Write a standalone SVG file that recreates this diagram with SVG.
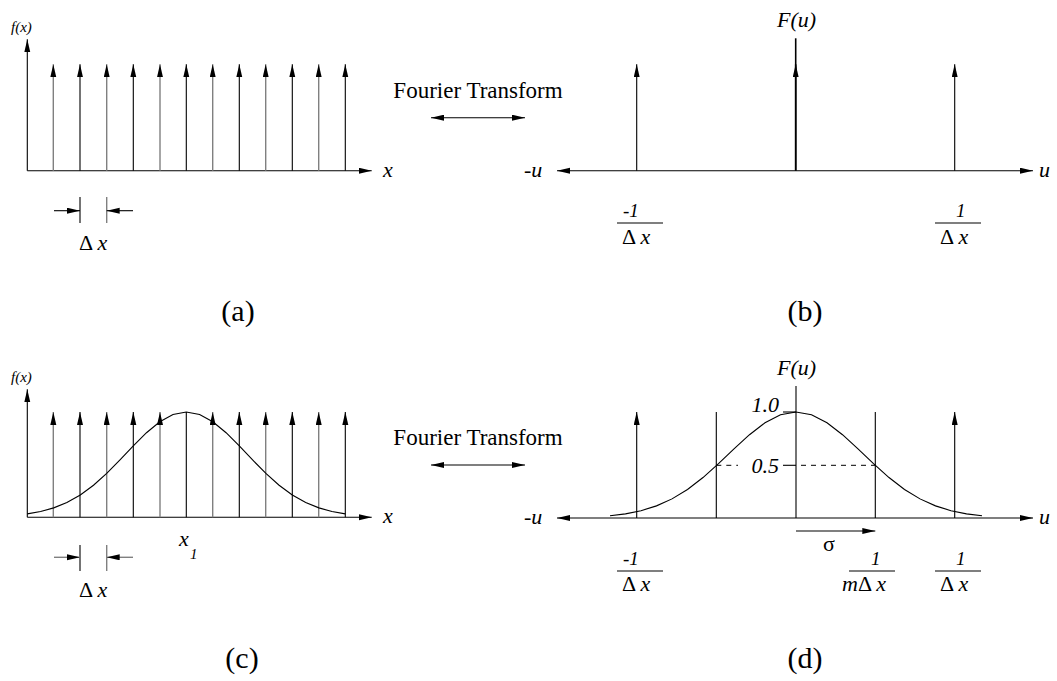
<svg xmlns="http://www.w3.org/2000/svg" width="1057" height="681" viewBox="0 0 1057 681">
<defs>
<marker id="ah" markerUnits="userSpaceOnUse" markerWidth="14" markerHeight="8" refX="13" refY="3" orient="auto">
<path d="M0,0 L13,3 L0,6 Z" fill="#000"/>
</marker>
<marker id="ahs" markerUnits="userSpaceOnUse" markerWidth="14" markerHeight="8" refX="0" refY="3" orient="auto">
<path d="M13,0 L0,3 L13,6 Z" fill="#000"/>
</marker>
<style>
.k{stroke:#000;stroke-width:1.1;fill:none}
.g{stroke:#808080;stroke-width:1.4;fill:none}
.a{marker-end:url(#ah)}
.c{stroke:#000;stroke-width:1.1;fill:none}
.d{stroke:#000;stroke-width:1;stroke-dasharray:5 5;fill:none}
text{font-family:"Liberation Serif","Times New Roman",Times,Tinos,"Nimbus Roman","Nimbus Roman No9 L",FreeSerif,"Noto Serif","DejaVu Serif",serif;fill:#000}
.it{font-style:italic}
.lab{font-size:22px}
.sm{font-size:15px}
.fr{font-size:19px}
.cap{font-size:30px;text-anchor:middle}
.ft{font-size:23px;text-anchor:middle}
</style>
</defs>

<g id="panel-a">
<line class="k a" x1="27.3" y1="170.7" x2="371.7" y2="170.7"/>
<line class="k a" x1="27.3" y1="170.7" x2="27.3" y2="39.3"/>
<line class="g a" x1="53.3" y1="170.7" x2="53.3" y2="64.3"/>
<line class="k a" x1="80" y1="170.7" x2="80" y2="64.3"/>
<line class="g a" x1="106.7" y1="170.7" x2="106.7" y2="64.3"/>
<line class="k a" x1="133.3" y1="170.7" x2="133.3" y2="64.3"/>
<line class="g a" x1="160" y1="170.7" x2="160" y2="64.3"/>
<line class="k a" x1="186.3" y1="170.7" x2="186.3" y2="64.3"/>
<line class="g a" x1="212.7" y1="170.7" x2="212.7" y2="64.3"/>
<line class="k a" x1="239.3" y1="170.7" x2="239.3" y2="64.3"/>
<line class="g a" x1="265.7" y1="170.7" x2="265.7" y2="64.3"/>
<line class="k a" x1="292.3" y1="170.7" x2="292.3" y2="64.3"/>
<line class="g a" x1="318.7" y1="170.7" x2="318.7" y2="64.3"/>
<line class="k a" x1="345.3" y1="170.7" x2="345.3" y2="64.3"/>
<text class="it sm" x="11" y="32">f(x)</text>
<text class="it lab" x="383" y="177">x</text>
<line class="k" x1="80" y1="197" x2="80" y2="223"/>
<line class="g" x1="106.7" y1="197" x2="106.7" y2="223"/>
<line class="k a" x1="54" y1="210.7" x2="80" y2="210.7"/>
<line class="k a" x1="133" y1="210.7" x2="106.7" y2="210.7"/>
<text class="lab" x="79" y="250">Δ <tspan class="it">x</tspan></text>
<text class="cap" x="238" y="321">(a)</text>
</g>

<g id="transform-ab">
<text class="ft" x="478" y="98">Fourier Transform</text>
</g>

<g id="panel-b">
<line class="k a" x1="795.7" y1="170.7" x2="1033" y2="170.7"/>
<line class="k a" x1="795.7" y1="170.7" x2="557" y2="170.7"/>
<line class="k a" x1="636.7" y1="170.7" x2="636.7" y2="64.3"/>
<line class="k a" x1="954.7" y1="170.7" x2="954.7" y2="64.3"/>
<line class="k" style="stroke-width:1.6" x1="795.7" y1="170.7" x2="795.7" y2="38.3"/>
<line class="k a" style="stroke-width:1.6" x1="795.7" y1="170.7" x2="795.7" y2="64.3"/>
<text class="it lab" x="777" y="27">F(u)</text>
<text class="it lab" x="524" y="177">-u</text>
<text class="it lab" x="1039" y="177">u</text>
<text class="it fr" x="623" y="217">-1</text>
<line class="c" x1="617" y1="223" x2="663" y2="223"/>
<text class="lab" x="622" y="244">Δ <tspan class="it">x</tspan></text>
<text class="it fr" x="956" y="217">1</text>
<line class="c" x1="935" y1="223" x2="981" y2="223"/>
<text class="lab" x="940" y="244">Δ <tspan class="it">x</tspan></text>
<text class="cap" x="805" y="321">(b)</text>
</g>

<g id="panel-c">
<line class="k a" x1="27.3" y1="517.3" x2="371.7" y2="517.3"/>
<line class="k a" x1="27.3" y1="517.3" x2="27.3" y2="389.3"/>
<line class="g a" x1="53.3" y1="517.3" x2="53.3" y2="412"/>
<line class="k a" x1="80" y1="517.3" x2="80" y2="412"/>
<line class="g a" x1="106.7" y1="517.3" x2="106.7" y2="412"/>
<line class="k a" x1="133.3" y1="517.3" x2="133.3" y2="412"/>
<line class="g a" x1="160" y1="517.3" x2="160" y2="412"/>
<line class="k" x1="186.3" y1="517.3" x2="186.3" y2="412"/>
<line class="g a" x1="212.7" y1="517.3" x2="212.7" y2="412"/>
<line class="k a" x1="239.3" y1="517.3" x2="239.3" y2="412"/>
<line class="g a" x1="265.7" y1="517.3" x2="265.7" y2="412"/>
<line class="k a" x1="292.3" y1="517.3" x2="292.3" y2="412"/>
<line class="g a" x1="318.7" y1="517.3" x2="318.7" y2="412"/>
<line class="k a" x1="345.3" y1="517.3" x2="345.3" y2="412"/>
<polyline class="c" points="27.3,513.86 40.6,511.54 53.7,507.87 66.9,502.51 80.3,494.95 93.5,485.25 106.7,473.45 120,459.97 133.3,445.92 146.5,432.73 159.8,421.75 173,414.55 186.3,412 199.6,414.55 212.8,421.75 226.1,432.73 239.3,445.92 252.6,459.97 265.9,473.45 279.1,485.25 292.3,494.95 305.7,502.51 318.9,507.87 332,511.54 345.3,513.86"/>
<text class="it sm" x="11" y="382">f(x)</text>
<text class="it lab" x="383" y="523">x</text>
<text class="it lab" x="179" y="546">x</text>
<text class="it sm" x="190" y="559">1</text>
<line class="k" x1="80" y1="545" x2="80" y2="571"/>
<line class="g" x1="106.7" y1="545" x2="106.7" y2="571"/>
<line class="g a" x1="54" y1="557.3" x2="80" y2="557.3"/>
<line class="g a" x1="133" y1="557.3" x2="106.7" y2="557.3"/>
<text class="lab" x="79" y="597">Δ <tspan class="it">x</tspan></text>
<text class="cap" x="242" y="668">(c)</text>
</g>

<g id="transform-cd">
<text class="ft" x="478" y="445">Fourier Transform</text>
</g>

<g id="panel-d">
<line class="k a" x1="796" y1="518" x2="1033" y2="518"/>
<line class="k a" x1="796" y1="518" x2="557" y2="518"/>
<line class="k a" x1="636.7" y1="518" x2="636.7" y2="412"/>
<line class="k a" x1="954.7" y1="518" x2="954.7" y2="412"/>
<line class="k" x1="796" y1="518" x2="796" y2="386"/>
<line class="k" x1="716.3" y1="518" x2="716.3" y2="412"/>
<line class="k" x1="875.3" y1="518" x2="875.3" y2="412"/>
<polyline class="c" points="610,515.75 625.5,513.84 641,510.7 656.5,505.86 672,498.88 687.5,489.43 703,477.55 718.5,463.7 734,448.92 749.5,434.7 765,422.76 780.5,414.8 796,412 811.5,414.8 827,422.76 842.5,434.7 858,448.92 873.5,463.7 889,477.55 904.5,489.43 920,498.88 935.5,505.86 951,510.7 966.5,513.84 982,515.75"/>
<line class="k" x1="783" y1="412" x2="796" y2="412"/>
<line class="k" x1="783" y1="465.3" x2="796" y2="465.3"/>
<line class="d" x1="716.3" y1="465.3" x2="738" y2="465.3"/>
<line class="d" x1="801" y1="465.3" x2="875.3" y2="465.3"/>
<text class="it lab" x="779" y="412" text-anchor="end">1.0</text>
<text class="it lab" x="779" y="472.5" text-anchor="end">0.5</text>
<line class="k a" x1="796" y1="531" x2="875.3" y2="531"/>
<text class="lab" x="823" y="551">σ</text>
<text class="it lab" x="777" y="375">F(u)</text>
<text class="it lab" x="524" y="524">-u</text>
<text class="it lab" x="1039" y="524">u</text>
<text class="it fr" x="623" y="565">-1</text>
<line class="c" x1="617" y1="571" x2="663" y2="571"/>
<text class="lab" x="622" y="591">Δ <tspan class="it">x</tspan></text>
<text class="it fr" x="871" y="565">1</text>
<line class="c" x1="849" y1="571" x2="895" y2="571"/>
<text class="lab" x="842" y="591"><tspan class="it">m</tspan>Δ <tspan class="it">x</tspan></text>
<text class="it fr" x="956" y="565">1</text>
<line class="c" x1="935" y1="571" x2="981" y2="571"/>
<text class="lab" x="940" y="591">Δ <tspan class="it">x</tspan></text>
<text class="cap" x="805" y="668">(d)</text>
</g>

<g id="connectors">
<line class="k" x1="431" y1="117.7" x2="525" y2="117.7" marker-start="url(#ahs)" marker-end="url(#ah)"/>
<line class="k" x1="431" y1="465" x2="525" y2="465" marker-start="url(#ahs)" marker-end="url(#ah)"/>
</g>
</svg>
